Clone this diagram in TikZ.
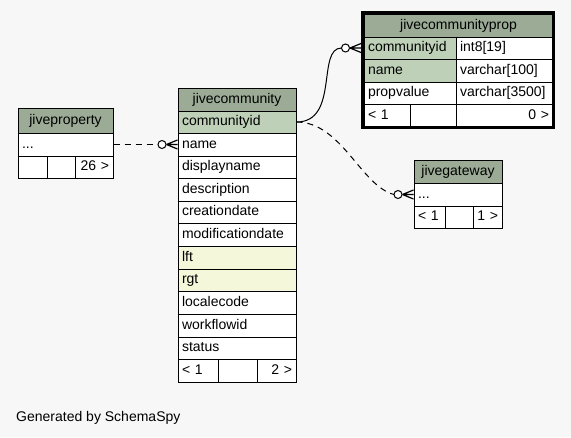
\documentclass[tikz,border=0pt]{standalone}
\usepackage{fontspec}
\setmainfont{Liberation Sans}
\usetikzlibrary{calc}
\definecolor{bg}{HTML}{F7F7F7}
\definecolor{hdr}{HTML}{9BAB96}
\definecolor{key}{HTML}{BED1B8}
\definecolor{idx}{HTML}{F4F7DA}
\tikzset{
 tcell/.style={draw=black, line width=1pt, anchor=north west, inner xsep=4pt, inner ysep=0pt,
   text height=10pt, text depth=2.5pt, font=\fontsize{14}{16}\selectfont},
 dashconn/.style={line width=1pt, dash pattern=on 6pt off 5pt},
 solidconn/.style={line width=1pt},
 crowline/.style={line width=1.2pt, solid},
 ring/.style={draw=black, line width=1pt, fill=white, solid},
 focusframe/.style={draw=black, line width=3pt},
 footnote/.style={anchor=base west, inner sep=0pt, font=\fontsize{14}{16}\selectfont}
}
\newcommand\tc[8]{\node[tcell, fill=#6, align=#7, minimum width=#4pt, text width=\dimexpr#4pt-8pt\relax, minimum height=#5pt] (#1) at (#2,#3) {#8};}
\newcommand\crowto[1]{%
  \draw[crowline] ($(#1)+(-11,0)$) -- ($(#1)+(0,-4.5)$)
                  ($(#1)+(-11,0)$) -- (#1)
                  ($(#1)+(-11,0)$) -- ($(#1)+(0,4.5)$);
  \draw[ring] ($(#1)+(-15.5,0)$) circle[radius=4pt];}
\begin{document}
\begin{tikzpicture}[x=1pt,y=-1pt]
\fill[bg] (0,0) rectangle (571,437);
\useasboundingbox (0,0) rectangle (571,437);

% jiveproperty
\tc{jp-h}{17.5}{107.5}{95}{25}{hdr}{center}{jiveproperty}
\tc{jp-r1}{17.5}{132.5}{95}{23}{white}{left}{...}
\tc{jp-f1}{17.5}{155.5}{29}{22}{white}{left}{}
\tc{jp-f2}{46.5}{155.5}{28}{22}{white}{left}{}
\tc{jp-f3}{74.5}{155.5}{38}{22}{white}{right}{26 >}

% jivecommunity
\tc{jc-h}{177.5}{87.5}{118}{23}{hdr}{center}{jivecommunity}
\tc{jc-k1}{177.5}{110.5}{118}{22}{key}{left}{communityid}
\tc{jc-name}{177.5}{132.5}{118}{23}{white}{left}{name}
\tc{jc-dn}{177.5}{155.5}{118}{22}{white}{left}{displayname}
\tc{jc-desc}{177.5}{177.5}{118}{23}{white}{left}{description}
\tc{jc-cd}{177.5}{200.5}{118}{22}{white}{left}{creationdate}
\tc{jc-md}{177.5}{222.5}{118}{23}{white}{left}{modificationdate}
\tc{jc-lft}{177.5}{245.5}{118}{23}{idx}{left}{lft}
\tc{jc-rgt}{177.5}{268.5}{118}{22}{idx}{left}{rgt}
\tc{jc-lc}{177.5}{290.5}{118}{23}{white}{left}{localecode}
\tc{jc-wf}{177.5}{313.5}{118}{23}{white}{left}{workflowid}
\tc{jc-st}{177.5}{336.5}{118}{22}{white}{left}{status}
\tc{jc-f1}{177.5}{358.5}{40}{23}{white}{left}{< 1}
\tc{jc-f2}{217.5}{358.5}{39}{23}{white}{left}{}
\tc{jc-f3}{256.5}{358.5}{39}{23}{white}{right}{2 >}

% jivecommunityprop
\tc{jcp-h}{363.5}{13.5}{189}{23}{hdr}{center}{jivecommunityprop}
\tc{jcp-k1}{363.5}{36.5}{92}{22}{key}{left}{communityid}
\tc{jcp-t1}{455.5}{36.5}{97}{22}{white}{left}{int8[19]}
\tc{jcp-k2}{363.5}{58.5}{92}{23}{key}{left}{name}
\tc{jcp-t2}{455.5}{58.5}{97}{23}{white}{left}{varchar[100]}
\tc{jcp-c3}{363.5}{81.5}{92}{22}{white}{left}{propvalue}
\tc{jcp-t3}{455.5}{81.5}{97}{22}{white}{left}{varchar[3500]}
\tc{jcp-f1}{363.5}{103.5}{46}{23}{white}{left}{< 1}
\tc{jcp-f2}{409.5}{103.5}{46}{23}{white}{left}{}
\tc{jcp-f3}{455.5}{103.5}{97}{23}{white}{right}{0 >}
\draw[focusframe] (362.5,12.5) rectangle (553.5,127.5);

% jivegateway
\tc{jg-h}{413.5}{159.5}{88}{23}{hdr}{center}{jivegateway}
\tc{jg-r1}{413.5}{182.5}{88}{23}{white}{left}{...}
\tc{jg-f1}{413.5}{205.5}{31}{22}{white}{left}{< 1}
\tc{jg-f2}{444.5}{205.5}{28}{22}{white}{left}{}
\tc{jg-f3}{472.5}{205.5}{29}{22}{white}{right}{1 >}

% connectors
\coordinate (c1) at ($(jc-name.west)+(-19.5,0)$);
\draw[dashconn] (jp-r1.east) -- (c1);
\crowto{jc-name.west}

\coordinate (p2) at ($(jcp-k1.west)+(-2.5,0)$);
\coordinate (c2) at ($(p2)+(-19.5,0)$);
\draw[solidconn] (jc-k1.east) .. controls ($(jc-k1.east)+(43,0)$) and ($(c2)+(-25,0)$) .. (c2);
\crowto{p2}

\coordinate (c3) at ($(jg-r1.west)+(-19.5,0)$);
\draw[dashconn] (jc-k1.east) .. controls ($(jc-k1.east)+(45,0)$) and ($(c3)+(-33,-8.5)$) .. (c3);
\crowto{jg-r1.west}

\node[footnote] (gen) at (16,421) {Generated by SchemaSpy};
\end{tikzpicture}
\end{document}
